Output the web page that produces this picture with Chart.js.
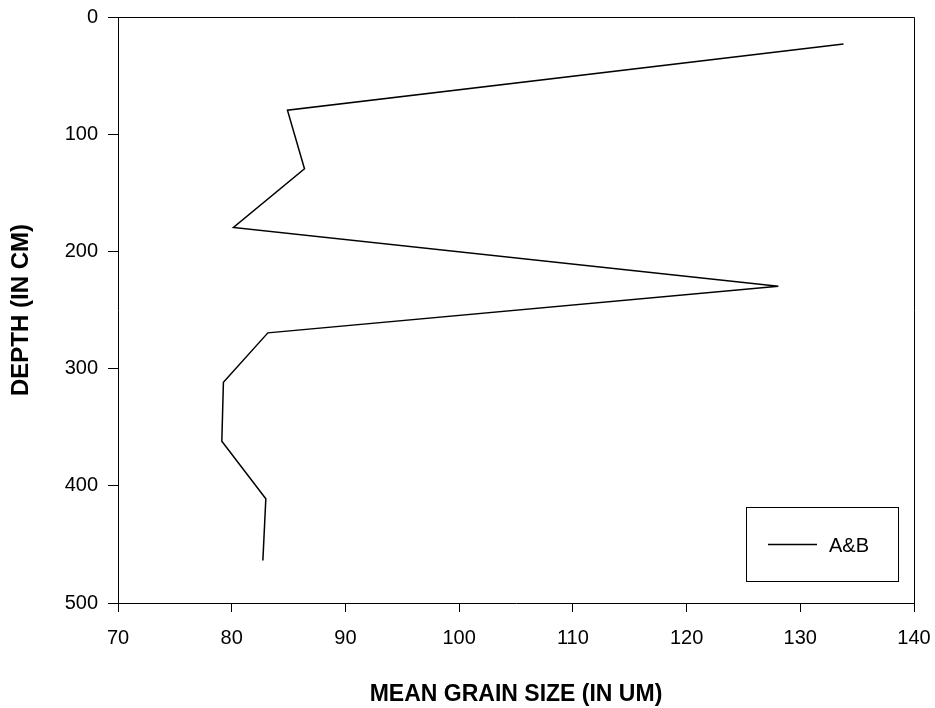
<!DOCTYPE html>
<html>
<head>
<meta charset="utf-8">
<script src="https://cdn.jsdelivr.net/npm/chart.js@4/dist/chart.umd.min.js"></script>
<style>
html,body{margin:0;padding:0;background:#fff;}
#wrap{width:935px;height:708px;position:relative;}
</style>
</head>
<body>
<div id="wrap"><canvas id="c" width="935" height="708"></canvas></div>
<script>
const seriesLabel = "A&B";
const grainSize = [133.8, 84.9, 86.4, 80.15, 128.07, 83.18, 79.27, 79.13, 83.0, 82.74];
const depth = [23, 79.5, 129.5, 179.5, 229.7, 269.5, 311.6, 361.9, 411.1, 463.7];
const xTicks = [70, 80, 90, 100, 110, 120, 130, 140];
const yTicks = [0, 100, 200, 300, 400, 500];
const xTitle = "MEAN GRAIN SIZE (IN UM)";
const yTitle = "DEPTH (IN CM)";

const points = grainSize.map((v, i) => ({x: v, y: depth[i]}));
const FONT = "'Liberation Sans', Arial, sans-serif";

const frameAndLegend = {
  id: 'frameAndLegend',
  afterDraw(chart) {
    const ctx = chart.ctx;
    const a = chart.chartArea;
    ctx.save();
    ctx.strokeStyle = '#000';
    ctx.lineWidth = 1;
    ctx.beginPath();
    ctx.moveTo(a.left, a.top + 0.5);
    ctx.lineTo(a.right + 0.5, a.top + 0.5);
    ctx.lineTo(a.right + 0.5, a.bottom);
    ctx.stroke();
    // legend box
    const bx = 746, by = 507, bw = 152, bh = 74;
    ctx.strokeRect(bx + 0.5, by + 0.5, bw, bh);
    ctx.lineWidth = 1.5;
    ctx.beginPath();
    ctx.moveTo(768, 544.5);
    ctx.lineTo(817, 544.5);
    ctx.stroke();
    ctx.fillStyle = '#000';
    ctx.font = '20px ' + FONT;
    ctx.textBaseline = 'middle';
    ctx.textAlign = 'left';
    ctx.fillText(chart.data.datasets[0].label, 829, 546);
    ctx.restore();
  }
};

new Chart(document.getElementById('c'), {
  type: 'scatter',
  data: {
    datasets: [{
      label: seriesLabel,
      data: points,
      showLine: true,
      borderColor: '#000',
      borderWidth: 1.5,
      pointRadius: 0,
      fill: false,
      tension: 0
    }]
  },
  options: {
    responsive: false,
    animation: false,
    layout: {padding: {top: 17, right: 21, left: 0, bottom: 0}},
    plugins: {legend: {display: false}, tooltip: {enabled: false}},
    scales: {
      x: {
        type: 'linear', min: 70, max: 140,
        afterBuildTicks(s) { s.ticks = xTicks.map(v => ({value: v})); },
        afterFit(s) { s.height = 105; s.paddingLeft = 0; s.paddingRight = 0; },
        ticks: {color: '#000', font: {family: FONT, size: 20}, padding: 14, maxRotation: 0},
        grid: {drawOnChartArea: false, drawTicks: true, tickLength: 9, tickColor: '#000', tickWidth: 1},
        border: {color: '#000', width: 1},
        title: {display: true, text: xTitle, color: '#000', font: {family: FONT, size: 23, weight: 'bold'}, padding: {top: 0, bottom: 0}}
      },
      y: {
        type: 'linear', min: 0, max: 500, reverse: true,
        afterBuildTicks(s) { s.ticks = yTicks.map(v => ({value: v})); },
        afterFit(s) { s.width = 118; s.paddingTop = 0; s.paddingBottom = 0; },
        ticks: {color: '#000', font: {family: FONT, size: 20}, padding: 10},
        grid: {drawOnChartArea: false, drawTicks: true, tickLength: 10, tickColor: '#000', tickWidth: 1},
        border: {color: '#000', width: 1},
        title: {display: true, text: yTitle, color: '#000', font: {family: FONT, size: 24, weight: 'bold'}, padding: {top: 7, bottom: 0}}
      }
    }
  },
  plugins: [frameAndLegend]
});
</script>
</body>
</html>
